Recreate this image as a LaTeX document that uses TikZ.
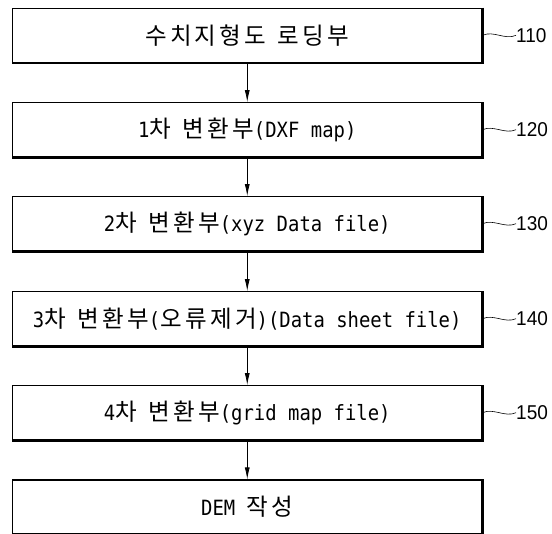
\documentclass[tikz,border=0pt]{standalone}
\usepackage{fontspec}
\setmainfont{DejaVu Sans Mono}[FakeStretch=0.9]
\newfontfamily\kr{Noto Sans CJK KR}[Scale=1.12,LetterSpace=14]
\newfontfamily\numfont{Liberation Sans}[FakeStretch=0.95]
\usetikzlibrary{arrows.meta}
\begin{document}
\begin{tikzpicture}[x=1pt,y=-1pt,
  blk/.style={draw, line width=1.1pt, minimum width=469.5pt, minimum height=54pt, inner sep=0pt, font=\fontsize{21}{24}\selectfont},
  lab/.style={anchor=west, inner sep=0pt, font=\numfont\fontsize{20}{24}\selectfont},
  flow/.style={-{Latex[length=12pt,width=5pt]}, line width=0.8pt},
  wave/.style={line width=0.6pt},
  shade/.style={line width=2.6pt}]
\useasboundingbox (0,0) rectangle (552,534);
\node[blk] (b1) at (247.25,35.3) {{\kr 수치지형도} {\kr 로딩부}};
\node[blk] (b2) at (247.25,129.7) {1{\kr 차} {\kr 변환부}(DXF map)};
\node[blk] (b3) at (247.25,223.7) {2{\kr 차} {\kr 변환부}(xyz Data file)};
\node[blk] (b4) at (247.25,318.7) {3{\kr 차} {\kr 변환부}({\kr 오류제거})(Data sheet file)};
\node[blk] (b5) at (247.25,412.7) {4{\kr 차} {\kr 변환부}(grid map file)};
\node[blk] (b6) at (247.25,507) {DEM {\kr 작성}};
\foreach \n in {b1,b2,b3,b4,b5,b6}
  \draw[shade] (\n.north east) -- (\n.south east) -- (\n.south west);
\node[lab] (l1) at (516,35.3) {110};
\node[lab] (l2) at (516,129.7) {120};
\node[lab] (l3) at (516,223.7) {130};
\node[lab] (l4) at (516,318.7) {140};
\node[lab] (l5) at (516,412.7) {150};
\foreach \i in {1,...,5}
  \draw[wave] (b\i.east) .. controls +(11,-5) and +(-11,5) .. (l\i.west);
\draw[flow] (b1) -- (b2);
\draw[flow] (b2) -- (b3);
\draw[flow] (b3) -- (b4);
\draw[flow] (b4) -- (b5);
\draw[flow] (b5) -- (b6);
\end{tikzpicture}
\end{document}
